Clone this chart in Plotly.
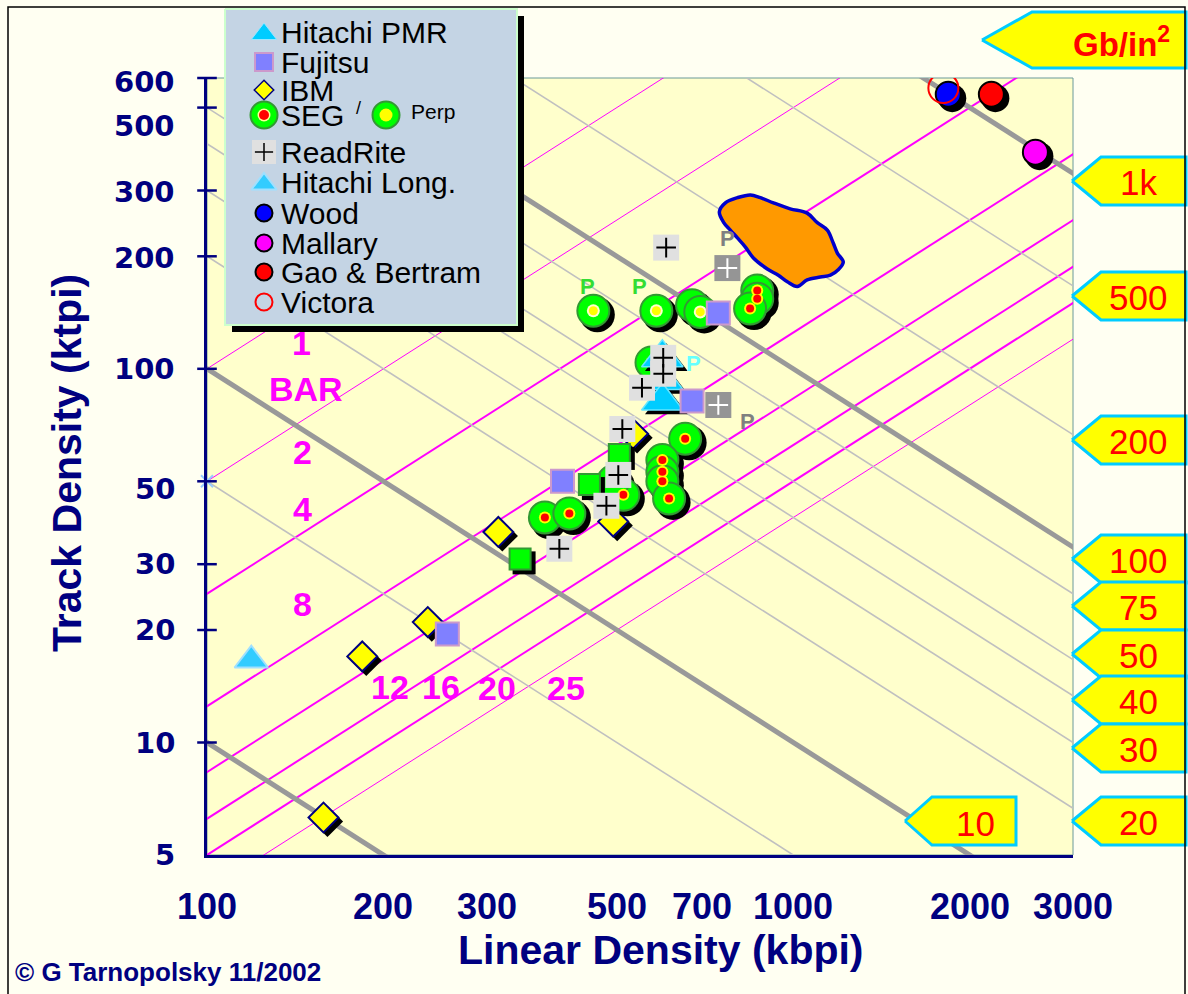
import numpy as np
import plotly.graph_objects as go

# ---------------- data ----------------
# reference lines
BAR_VALUES = [1, 2, 4, 8, 12, 16, 20, 25]          # bit aspect ratio lines  (ktpi = kbpi / BAR)
BAR_THICK = [4, 8, 12, 16, 20]
GBIN_THIN = [5, 20, 30, 40, 50, 75, 200, 500]       # areal density lines (Gb/in2)
GBIN_THICK = [1, 10, 100, 1000]

x_ticks = [100, 200, 300, 500, 700, 1000, 2000, 3000]
x_minor = [400, 600, 800, 900]
y_ticks = [5, 10, 20, 30, 50, 100, 200, 300, 500, 600]

# series (kbpi, ktpi)
ibm_x = [158, 184, 238, 314, 493, 533]
ibm_y = [6.3, 17, 21, 36.6, 39, 67]

seg_x = [573, 654, 598, 598, 598, 614, 513, 493, 377, 415, 672, 868, 868, 844]
seg_y = [104, 65, 57, 53, 50, 45, 46, 50, 40, 41, 148, 162, 154, 145]

perp_x = [456, 584, 694]
perp_y = [143, 143, 142]

hitachi_pmr_x = [598, 598, 598]
hitachi_pmr_y = [107, 93, 82]

hitachi_long_x = [119]
hitachi_long_y = [16.6]

green_sq_x = [505, 449, 342]
green_sq_y = [59, 49, 31]

fujitsu_x = [404, 672, 745, 257]
fujitsu_y = [50, 82, 141, 19.5]

readrite_x = [607, 600, 600, 552, 511, 503, 480, 399]
readrite_y = [211, 107, 97, 89, 69, 52, 43, 33]
readrite_perp_x = [772, 745]
readrite_perp_y = [186, 80]

wood_x, wood_y = [1838], [543]
victora_x, victora_y = [1803], [564]
gao_x, gao_y = [2177], [543]
mallary_x, mallary_y = [2588], [380]

axis_mark_x, axis_mark_y = [100], [50]

blob_x = [748, 766, 803, 845, 879, 925, 988, 1056, 1099, 1143, 1170, 1189, 1217,
          1193, 1157, 1112, 1056, 1016, 977, 943, 903, 855, 828, 803, 781, 760]
blob_y = [263, 278, 287, 292, 287, 278, 268, 261, 246, 235, 217, 204, 193,
          184, 178, 176, 173, 166, 171, 178, 185, 198, 212, 224, 235, 247]

right_labels = ['1k', '500', '200', '100', '75', '50', '40', '30', '20']

# ---------------- style ----------------
W, H = 1188, 994
PL, PR, PT, PB = 207, 1073, 78, 855
NAVY = '#000080'
CREAM = '#FFFFF2'
PLOTBG = '#FFFFCC'
MAG = '#FF00FF'
ARIAL = 'Liberation Sans, Arial, sans-serif'
HEAVY = 'DejaVu Sans, Arial Black, sans-serif'
SX = 10 ** (4 / 586.0)
SY = 10 ** (-4 / 373.7)

fig = go.Figure()


def add(tr):
    tr.update(hoverinfo='skip', showlegend=False)
    fig.add_trace(tr)


def shadow(xs, ys, symbol, size):
    add(go.Scatter(x=np.array(xs) * SX, y=np.array(ys) * SY, mode='markers',
                   marker=dict(symbol=symbol, size=size, color='black',
                               line=dict(width=0))))


# reference lines
line_x = np.array([60.0, 6000.0])
for b in BAR_VALUES:
    add(go.Scatter(x=line_x, y=line_x / b, mode='lines',
                   line=dict(color=MAG, width=2 if b in BAR_THICK else 1)))
for g in GBIN_THIN:
    add(go.Scatter(x=line_x, y=1000.0 * g / line_x, mode='lines',
                   line=dict(color='#C0C0C0', width=1.6)))
for g in GBIN_THICK:
    add(go.Scatter(x=line_x, y=1000.0 * g / line_x, mode='lines',
                   line=dict(color='#999999', width=5)))

# orange region
add(go.Scatter(x=blob_x + blob_x[:1], y=blob_y + blob_y[:1], mode='lines',
               fill='toself', fillcolor='#FF9900',
               line=dict(color='#0000CC', width=3.5, shape='spline')))

# IBM
shadow(ibm_x, ibm_y, 'diamond', 24)
add(go.Scatter(x=ibm_x, y=ibm_y, mode='markers',
               marker=dict(symbol='diamond', size=23, color='#FFFF00',
                           line=dict(color=NAVY, width=2))))

# SEG / Perp
shadow(seg_x, seg_y, 'circle', 35)
shadow(perp_x, perp_y, 'circle', 35)
add(go.Scatter(x=seg_x, y=seg_y, mode='markers',
               marker=dict(symbol='circle', size=32, color='#00FF00',
                           line=dict(color='#339933', width=2))))
add(go.Scatter(x=seg_x, y=seg_y, mode='markers',
               marker=dict(symbol='circle', size=12, color='#FFFF00', line=dict(width=0))))
add(go.Scatter(x=seg_x, y=seg_y, mode='markers',
               marker=dict(symbol='circle', size=8, color='#FF0000', line=dict(width=0))))
add(go.Scatter(x=perp_x, y=perp_y, mode='markers',
               marker=dict(symbol='circle', size=32, color='#00FF00',
                           line=dict(color='#339933', width=2))))
add(go.Scatter(x=perp_x, y=perp_y, mode='markers',
               marker=dict(symbol='circle', size=13, color='#FFFFCC', line=dict(width=0))))
add(go.Scatter(x=perp_x, y=perp_y, mode='markers',
               marker=dict(symbol='circle', size=9, color='#FFFF00', line=dict(width=0))))

# Hitachi PMR
shadow(hitachi_pmr_x, hitachi_pmr_y, 'triangle-up', 37)
add(go.Scatter(x=hitachi_pmr_x, y=hitachi_pmr_y, mode='markers',
               marker=dict(symbol='triangle-up', size=36, color='#00CCFF',
                           line=dict(color='#66E6FF', width=1.5))))

# green squares
shadow(green_sq_x, green_sq_y, 'square', 23)
add(go.Scatter(x=green_sq_x, y=green_sq_y, mode='markers',
               marker=dict(symbol='square', size=21, color='#00FF00',
                           line=dict(color='#339933', width=2))))

# Fujitsu
add(go.Scatter(x=fujitsu_x, y=fujitsu_y, mode='markers',
               marker=dict(symbol='square', size=23, color='#8080FF',
                           line=dict(color='#CC99CC', width=2))))

# ReadRite
add(go.Scatter(x=readrite_x, y=readrite_y, mode='markers',
               marker=dict(symbol='square', size=26, color='#E0E0E0', line=dict(width=0))))
add(go.Scatter(x=readrite_x, y=readrite_y, mode='markers',
               marker=dict(symbol='cross-thin-open', size=14, color='black',
                           line=dict(color='black', width=2))))
add(go.Scatter(x=readrite_perp_x, y=readrite_perp_y, mode='markers',
               marker=dict(symbol='square', size=26, color='#959595', line=dict(width=0))))
add(go.Scatter(x=readrite_perp_x, y=readrite_perp_y, mode='markers',
               marker=dict(symbol='cross-thin-open', size=14, color='white',
                           line=dict(color='white', width=2))))

# Hitachi longitudinal
add(go.Scatter(x=hitachi_long_x, y=hitachi_long_y, mode='markers',
               marker=dict(symbol='triangle-up', size=29, color='#33CCFF',
                           line=dict(color='#A0E0FF', width=2))))

# Wood / Gao / Mallary / Victora
for xs, ys, col in [(wood_x, wood_y, '#0000FF'), (gao_x, gao_y, '#FF0000'),
                    (mallary_x, mallary_y, '#FF00FF')]:
    shadow(xs, ys, 'circle', 28)
    add(go.Scatter(x=xs, y=ys, mode='markers',
                   marker=dict(symbol='circle', size=25, color=col,
                               line=dict(color='black', width=2))))
add(go.Scatter(x=victora_x, y=victora_y, mode='markers',
               marker=dict(symbol='circle-open', size=30, color='#FF0000',
                           line=dict(color='#FF0000', width=2))))

add(go.Scatter(x=axis_mark_x, y=axis_mark_y, mode='markers', cliponaxis=False,
               marker=dict(symbol='x-thin-open', size=12, color='#99CCFF',
                           line=dict(color='#99CCFF', width=2))))

# axis tick marks (crossing the axis lines)
xt = x_ticks + x_minor
add(go.Scatter(x=xt, y=[y_ticks[0]] * len(xt), mode='markers', cliponaxis=False,
               marker=dict(symbol='line-ns-open', size=14, color=NAVY,
                           line=dict(color=NAVY, width=2.5))))
add(go.Scatter(x=[x_ticks[0]] * len(y_ticks), y=y_ticks, mode='markers', cliponaxis=False,
               marker=dict(symbol='line-ew-open', size=14, color=NAVY,
                           line=dict(color=NAVY, width=2.5))))

# ---------------- overlay (pixel space) decorations ----------------
def padd(tr):
    tr.update(xaxis='x2', yaxis='y2', hoverinfo='skip', showlegend=False)
    fig.add_trace(tr)


def rect(x0, y0, x1, y1, fill, lc, lw):
    padd(go.Scatter(x=[x0, x1, x1, x0, x0], y=[y0, y0, y1, y1, y0], mode='lines',
                    fill='toself', fillcolor=fill, line=dict(color=lc, width=lw)))


def pent(tip, body, right, yc, h, fill='#FFFF00', lc='#00CCFF', lw=3):
    padd(go.Scatter(x=[tip, body, right, right, body, tip],
                    y=[yc, yc - h / 2, yc - h / 2, yc + h / 2, yc + h / 2, yc],
                    mode='lines', fill='toself', fillcolor=fill,
                    line=dict(color=lc, width=lw)))


# legend box
rect(232, 16, 524, 332, 'black', 'black', 0)
rect(225, 9, 517, 325, '#C4D4E4', '#CCFFCC', 2)

LX = 264
rows = [32, 62, 90, 115, 152, 182, 213, 243, 272, 302]
leg_names = ['Hitachi PMR', 'Fujitsu', 'IBM', 'SEG', 'ReadRite', 'Hitachi Long.',
             'Wood', 'Mallary', 'Gao & Bertram', 'Victora']


def pm(x, y, **mk):
    padd(go.Scatter(x=[x], y=[y], mode='markers', marker=mk))


pm(LX, rows[0] + 2, symbol='triangle-up', size=22, color='#00CCFF', line=dict(color='#99E6FF', width=1))
pm(LX, rows[1], symbol='square', size=18, color='#8080FF', line=dict(color='#CC99CC', width=2))
pm(LX, rows[2], symbol='diamond', size=15, color='#FFFF00', line=dict(color=NAVY, width=1.5))
pm(LX, rows[3], symbol='circle', size=27, color='#00FF00', line=dict(color='#339933', width=2))
pm(LX, rows[3], symbol='circle', size=13, color='#FFFF99', line=dict(width=0))
pm(LX, rows[3], symbol='circle', size=10, color='#FF0000', line=dict(width=0))
pm(386, rows[3], symbol='circle', size=27, color='#00FF00', line=dict(color='#339933', width=2))
pm(386, rows[3], symbol='circle', size=13, color='#FFFF00', line=dict(width=0))
pm(LX, rows[4], symbol='square', size=24, color='#E0E0E0', line=dict(width=0))
pm(LX, rows[4], symbol='cross-thin-open', size=13, color='black', line=dict(color='black', width=1.5))
pm(LX, rows[5] + 2, symbol='triangle-up', size=22, color='#33CCFF', line=dict(color='#A0E0FF', width=2))
pm(LX, rows[6], symbol='circle', size=17, color='#0000FF', line=dict(color='black', width=2))
pm(LX, rows[7], symbol='circle', size=17, color='#FF00FF', line=dict(color='black', width=2))
pm(LX, rows[8], symbol='circle', size=17, color='#FF0000', line=dict(color='black', width=2))
pm(LX, rows[9], symbol='circle-open', size=17, color='#FF0000', line=dict(color='#FF0000', width=2))

# right side density labels
right_yc = [181, 296, 440, 559, 606, 654, 700, 748, 821]
for lab, yc in zip(right_labels, right_yc):
    pent(1072, 1101, 1186, yc, 48)
pent(905, 932, 1016, 821, 48)
pent(982, 1032, 1186, 40, 56)

annotations = []


def ann(x, y, text, size, color='black', family=ARIAL, weight='normal', xa='center',
        ya='middle', angle=0):
    annotations.append(dict(x=x, y=y, xref='x2', yref='y2', text=text, showarrow=False,
                            xanchor=xa, yanchor=ya, textangle=angle,
                            font=dict(size=size, color=color, family=family, weight=weight)))


for name, ry in zip(leg_names, rows):
    ann(279, ry, name, 30, xa='left')
ann(354, 108, '/', 18, xa='left')
ann(409, 111, 'Perp', 21, xa='left')

for lab, yc in zip(right_labels, right_yc):
    ann(1138, yc + 1, lab, 35, color='#FF0000')
ann(975, 823, '10', 35, color='#FF0000')
ann(1172, 42, 'Gb/in<sup>2</sup>', 33, color='#FF0000', weight='bold', xa='right')

# BAR labels
for t, (x, y) in zip(['1', 'BAR', '2', '4', '8', '12', '16', '20', '25'],
                     [(301, 343), (306, 389), (302, 452), (302, 509), (302, 604),
                      (390, 687), (441, 687), (497, 688), (566, 688)]):
    ann(x, y, t, 34, color=MAG, weight='bold')

# P labels
for (x, y, c) in [(587, 286, '#33DD33'), (639, 286, '#33DD33'), (727, 238, '#808080'),
                  (747, 421, '#808080'), (693, 363, '#66FFFF')]:
    ann(x, y, 'P', 22, color=c, weight='bold')

# axis titles and credit
ann(67, 463, 'Track Density (ktpi)', 41, color=NAVY, weight='bold', angle=-90)
ann(661, 950, 'Linear Density (kbpi)', 41, color=NAVY, weight='bold')
ann(13, 972, '© G Tarnopolsky 11/2002', 26, color=NAVY, weight='bold', xa='left')

# tick labels
for v in x_ticks:
    annotations.append(dict(x=np.log10(v), y=1 - 906 / H, xref='x', yref='paper',
                            text=str(v), showarrow=False, xanchor='center', yanchor='middle',
                            font=dict(size=36, color=NAVY, family=ARIAL, weight='bold')))
y_shift = {600: -4, 500: -18, 300: -2, 200: -2, 50: -8}
for v in y_ticks:
    annotations.append(dict(x=177 / W, y=np.log10(v), xref='paper', yref='y',
                            text=str(v), showarrow=False, xanchor='right', yanchor='middle',
                            yshift=y_shift.get(v, 0),
                            font=dict(size=29, color=NAVY, family=HEAVY, weight='bold')))

shapes = [
    dict(type='rect', xref='paper', yref='paper', x0=PL / W, x1=PR / W,
         y0=1 - PB / H, y1=1 - PT / H, fillcolor=PLOTBG, line=dict(color='#6A9A9A', width=1),
         layer='below'),
    dict(type='rect', xref='paper', yref='paper', x0=8 / W, x1=1185 / W,
         y0=-0.02, y1=1 - 7 / H, line=dict(color='black', width=1.5), layer='above'),
]

fig.update_layout(
    width=W, height=H, margin=dict(l=0, r=0, t=0, b=0),
    paper_bgcolor=CREAM, plot_bgcolor='rgba(0,0,0,0)',
    showlegend=False, hovermode=False,
    xaxis=dict(type='log', range=[2, np.log10(3000)], domain=[PL / W, PR / W], anchor='y',
               showgrid=False, zeroline=False, showline=True, linecolor=NAVY, linewidth=3,
               showticklabels=False, ticks='', automargin=False, fixedrange=True),
    yaxis=dict(type='log', range=[np.log10(5), np.log10(600)],
               domain=[1 - PB / H, 1 - PT / H], anchor='x',
               showgrid=False, zeroline=False, showline=True, linecolor=NAVY, linewidth=3,
               showticklabels=False, ticks='', automargin=False, fixedrange=True),
    xaxis2=dict(range=[0, W], domain=[0, 1], anchor='y2', visible=False, fixedrange=True),
    yaxis2=dict(range=[H, 0], domain=[0, 1], anchor='x2', visible=False, fixedrange=True),
    annotations=annotations, shapes=shapes,
)

fig.write_html('out.html', config={'displayModeBar': False, 'staticPlot': True},
               post_script="document.body.style.margin='0px';")
